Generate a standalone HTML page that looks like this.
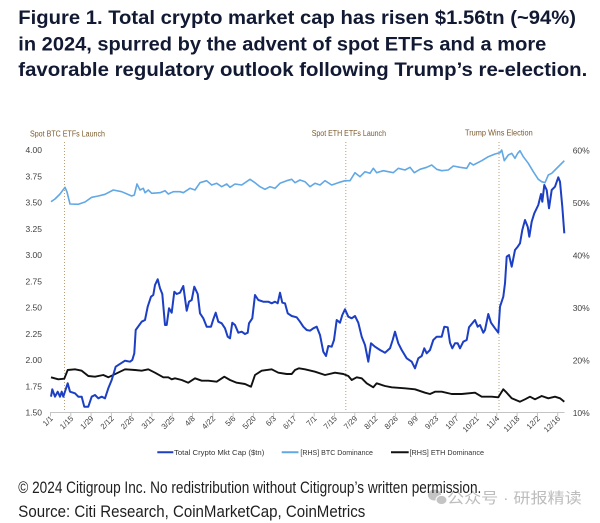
<!DOCTYPE html>
<html>
<head>
<meta charset="utf-8">
<style>
html,body{margin:0;padding:0;background:#fff;}
svg{display:block;}
</style>
</head>
<body>
<svg width="600" height="523" viewBox="0 0 600 523" xmlns="http://www.w3.org/2000/svg">
<rect width="600" height="523" fill="#fff"/>

<!-- Title -->
<g font-family="Liberation Sans, sans-serif" font-weight="bold" font-size="19.5" fill="#121a33">
<text x="18.3" y="24" textLength="557.7" lengthAdjust="spacingAndGlyphs">Figure 1. Total crypto market cap has risen $1.56tn (~94%)</text>
<text x="18.3" y="50.5" textLength="528" lengthAdjust="spacingAndGlyphs">in 2024, spurred by the advent of spot ETFs and a more</text>
<text x="18.3" y="76" textLength="569" lengthAdjust="spacingAndGlyphs">favorable regulatory outlook following Trump’s re-election.</text>
</g>

<!-- Annotations -->
<g font-family="Liberation Sans, sans-serif" font-size="8" fill="#7a5a2c">
<text x="30" y="136.5" textLength="75" lengthAdjust="spacingAndGlyphs">Spot BTC ETFs Launch</text>
<text x="311.7" y="136" textLength="74.3" lengthAdjust="spacingAndGlyphs">Spot ETH ETFs Launch</text>
<text x="465" y="135.5" textLength="67.7" lengthAdjust="spacingAndGlyphs">Trump Wins Election</text>
</g>
<g stroke="#b89f78" stroke-width="1" stroke-dasharray="1,2">
<line x1="64.5" y1="142" x2="64.5" y2="412"/>
<line x1="345.8" y1="142" x2="345.8" y2="412"/>
<line x1="499" y1="142" x2="499" y2="412"/>
</g>

<!-- Left axis labels -->
<g font-family="Liberation Sans, sans-serif" font-size="8.5" fill="#404040" text-anchor="end">
<text x="42" y="153">4.00</text>
<text x="42" y="179.25">3.75</text>
<text x="42" y="205.5">3.50</text>
<text x="42" y="231.75">3.25</text>
<text x="42" y="258">3.00</text>
<text x="42" y="284.25">2.75</text>
<text x="42" y="310.5">2.50</text>
<text x="42" y="336.75">2.25</text>
<text x="42" y="363">2.00</text>
<text x="42" y="389.25">1.75</text>
<text x="42" y="415.5">1.50</text>
</g>
<!-- Right axis labels -->
<g font-family="Liberation Sans, sans-serif" font-size="8.5" fill="#404040">
<text x="572.7" y="153.5">60%</text>
<text x="572.7" y="206">50%</text>
<text x="572.7" y="258.5">40%</text>
<text x="572.7" y="311">30%</text>
<text x="572.7" y="363.5">20%</text>
<text x="572.7" y="416">10%</text>
</g>

<!-- X axis -->
<line x1="50" y1="412.5" x2="564.5" y2="412.5" stroke="#c4c4c4" stroke-width="1"/>
<g stroke="#c4c4c4" stroke-width="1">
<line x1="50.5" y1="412.5" x2="50.5" y2="416.5"/>
<line x1="70.8" y1="412.5" x2="70.8" y2="416.5"/>
<line x1="91.1" y1="412.5" x2="91.1" y2="416.5"/>
<line x1="111.4" y1="412.5" x2="111.4" y2="416.5"/>
<line x1="131.6" y1="412.5" x2="131.6" y2="416.5"/>
<line x1="151.9" y1="412.5" x2="151.9" y2="416.5"/>
<line x1="172.2" y1="412.5" x2="172.2" y2="416.5"/>
<line x1="192.5" y1="412.5" x2="192.5" y2="416.5"/>
<line x1="212.8" y1="412.5" x2="212.8" y2="416.5"/>
<line x1="233.1" y1="412.5" x2="233.1" y2="416.5"/>
<line x1="253.4" y1="412.5" x2="253.4" y2="416.5"/>
<line x1="273.6" y1="412.5" x2="273.6" y2="416.5"/>
<line x1="293.9" y1="412.5" x2="293.9" y2="416.5"/>
<line x1="314.2" y1="412.5" x2="314.2" y2="416.5"/>
<line x1="334.5" y1="412.5" x2="334.5" y2="416.5"/>
<line x1="354.8" y1="412.5" x2="354.8" y2="416.5"/>
<line x1="375.1" y1="412.5" x2="375.1" y2="416.5"/>
<line x1="395.4" y1="412.5" x2="395.4" y2="416.5"/>
<line x1="415.6" y1="412.5" x2="415.6" y2="416.5"/>
<line x1="435.9" y1="412.5" x2="435.9" y2="416.5"/>
<line x1="456.2" y1="412.5" x2="456.2" y2="416.5"/>
<line x1="476.5" y1="412.5" x2="476.5" y2="416.5"/>
<line x1="496.8" y1="412.5" x2="496.8" y2="416.5"/>
<line x1="517.1" y1="412.5" x2="517.1" y2="416.5"/>
<line x1="537.4" y1="412.5" x2="537.4" y2="416.5"/>
<line x1="557.7" y1="412.5" x2="557.7" y2="416.5"/>
</g>
<g font-family="Liberation Sans, sans-serif" font-size="7.8" fill="#404040" text-anchor="end">
<text transform="translate(53.5,419) rotate(-45)">1/1</text>
<text transform="translate(73.8,419) rotate(-45)">1/15</text>
<text transform="translate(94.1,419) rotate(-45)">1/29</text>
<text transform="translate(114.4,419) rotate(-45)">2/12</text>
<text transform="translate(134.6,419) rotate(-45)">2/26</text>
<text transform="translate(154.9,419) rotate(-45)">3/11</text>
<text transform="translate(175.2,419) rotate(-45)">3/25</text>
<text transform="translate(195.5,419) rotate(-45)">4/8</text>
<text transform="translate(215.8,419) rotate(-45)">4/22</text>
<text transform="translate(236.1,419) rotate(-45)">5/6</text>
<text transform="translate(256.4,419) rotate(-45)">5/20</text>
<text transform="translate(276.6,419) rotate(-45)">6/3</text>
<text transform="translate(296.9,419) rotate(-45)">6/17</text>
<text transform="translate(317.2,419) rotate(-45)">7/1</text>
<text transform="translate(337.5,419) rotate(-45)">7/15</text>
<text transform="translate(357.8,419) rotate(-45)">7/29</text>
<text transform="translate(378.1,419) rotate(-45)">8/12</text>
<text transform="translate(398.4,419) rotate(-45)">8/26</text>
<text transform="translate(418.6,419) rotate(-45)">9/9</text>
<text transform="translate(438.9,419) rotate(-45)">9/23</text>
<text transform="translate(459.2,419) rotate(-45)">10/7</text>
<text transform="translate(479.5,419) rotate(-45)">10/21</text>
<text transform="translate(499.8,419) rotate(-45)">11/4</text>
<text transform="translate(520.1,419) rotate(-45)">11/18</text>
<text transform="translate(540.4,419) rotate(-45)">12/2</text>
<text transform="translate(560.7,419) rotate(-45)">12/16</text>
</g>

<!-- BTC dominance -->
<polyline fill="none" stroke="#62a8e5" stroke-width="1.6" stroke-linejoin="round" points="51,201.7 55,199 60,194 63,190 65,187.3 67,192 70,204 78.3,204.3 85,202 91.7,197.3 98.3,196 105,194.3 113.3,190 121.7,191.7 131.7,196 134.3,195 137,184 140,190 143.3,188.3 145,192.7 148.3,190 151.7,193.3 160,192.7 165,190.7 168.3,194 173.3,191.7 180,191.7 183.3,192.7 190,188.3 195,190 200,182.7 206.7,180.7 211.7,185 216.7,183.3 221.7,186.7 226.7,184 230,187.3 235,184 241.7,185 250,179.3 255,182.7 260,186.7 265,189.3 270,186.7 275,188.3 280,183.3 286.7,180.7 291.7,179.3 295,182.7 300,180 305,181.7 310,186.7 315,183.3 320,185 325,180.7 331.7,185 338.3,182.7 345,180.7 350,180.7 355,172.7 360,176.7 365,171.7 370,173.3 373.3,168.3 376.7,172.7 383.3,170.7 388.3,171.7 393.3,172.7 398.3,168.3 405,170 410,167.3 414.3,172.7 420,169.3 426.7,167.3 431.7,165 436.7,169.3 441.7,170.7 448.3,170 453.3,166 460,167.3 466.7,168.3 470,162.7 473.3,165 481.7,160.7 488.3,156.7 495,154 500,152.7 501.7,150 504.3,160.7 508.3,155 511.7,153.3 515,158.3 517.7,153.3 520,150.7 523.3,156.7 528.3,163.3 533.3,171.7 538.3,179.3 541.7,181.7 545,182.7 548.3,175 551.7,173.3 555,170 560,165 564.3,160.7"/>

<!-- ETH dominance -->
<polyline fill="none" stroke="#111" stroke-width="1.9" stroke-linejoin="round" points="51,377.3 58.3,379.3 64.3,378.7 67.7,370 75,369.3 81.7,370.7 88.3,376 95,376.7 103.3,375 108.3,377.3 116.7,373.3 125,369.3 135,370 141.7,370.7 148.3,369.3 155,372.7 163.3,377.3 168.3,377.3 171.7,379.3 175,378.3 181.7,380 188.3,382.7 195,378.3 201.7,380.7 208.3,380.7 216.7,381.7 224.3,376.7 230,380 236.7,382.7 245,384 251,386.7 255,375 261.7,370.7 271.7,369.3 278.3,372.7 286.7,374 291.7,374 295,370 299,368.3 305,369.3 315,371.7 325,375 335,372.7 343.3,374 348.3,376 351.7,380 356.7,377.3 361.7,378.3 366.7,383.3 373.3,387.3 376.7,383.3 385,386 391.7,387.3 405,388.3 415,389.3 425,392.7 430,394 435,391.7 441.7,391.7 451.7,394 461.7,394 475,392.7 481.7,396.7 491.7,396.7 498.3,397.3 503.3,389.3 506.7,392.7 511.7,398.3 520,401.7 525,399.3 530,396.7 535,399.3 541.7,396 548.3,398.3 555,396.7 560,398.3 564.3,401.7"/>

<!-- Total crypto market cap -->
<polyline fill="none" stroke="#1c3fc4" stroke-width="2" stroke-linejoin="round" points="51,396.7 52.3,389.3 55,396.7 57.7,391.7 60,396.7 61.7,391.7 63.3,396.7 67.7,383.3 70,391.7 75,393.3 78.3,396.7 81.7,396.7 84.3,406.7 88.3,406.7 91.7,396.7 95,395 98.3,398.3 101.7,396.7 105,398.3 108.3,388.3 111.7,380 115.7,366.7 125,360.7 130,361.7 132.3,360 134.3,353.3 135.7,330 141.7,321.7 145,320 147.7,306.7 151,296.7 153.3,295 155,285 157.7,279.3 160,288.3 162.3,294 165,325 166.7,325 169,308.3 171.7,312.7 174.3,291.7 176.7,294 180,292.7 183.3,286 186.7,310.7 189,301.7 191.7,300 194.3,286.7 197.7,294 200,313.3 203.3,318.3 206.7,326.7 211,326.7 213.3,319.3 215.7,312.7 218.3,321.7 221.7,323.3 225,328.3 227.7,336.7 230,338.3 232.3,322.7 235,325 238.3,332.7 241.7,331.7 245,334 247.7,332.7 249,323.3 252.3,318.3 255,295 258.3,300 263.3,301.7 268.3,301.7 271.7,303.3 275,301.7 277.7,303.3 280,292.7 282.3,302.7 285,303.3 287.7,313.3 291.7,316 296.7,317.3 300,321.7 303.3,326.7 306.7,330 310,330.7 313.3,328.3 316.7,326.7 320,335 323.3,351.7 326,356 328.3,346 331.7,346.7 334,340 336.7,320 340,322.7 342.3,315 345,309.3 348.3,316.7 351.7,318.3 355,316 358.3,322.7 361.7,336.7 365,345 368.3,361.7 371,343.3 375,346.7 380,350 385,352.7 390,348.3 392.7,340 395,331.7 398.3,343.3 401.7,350 406.7,358.3 411.7,361.7 415,368.3 418.3,358.3 421.7,356 424.3,348.3 426.7,353.3 430,350 433.3,340 436.7,336.7 441.7,336.7 444.3,326.7 447.7,327.3 450,342.7 452.3,348.3 455,343.3 457.7,343.3 460,348.3 463.3,341.7 466.7,340 469,327.3 472.3,323.3 475,320 477.7,326.7 480,325 483.3,332.7 485,330 488.3,314 491,322.7 495,328.3 498.3,332.7 500,306.7 503.3,296.7 505,283.3 506.7,256.7 509,255 511.7,266.7 515,250 517.7,246.7 520,243.3 522.3,230 525,220 527.7,226.7 529.3,236.7 531.7,221.7 534.3,213.3 538.3,205 541,194 542.3,201.7 544.3,185 546.7,190 549,208.3 551.7,190 555,186.7 558.3,177.3 560,181.7 562.3,206.7 564.3,233.3"/>

<!-- Legend -->
<g stroke-width="2">
<line x1="157.3" y1="452.3" x2="173.3" y2="452.3" stroke="#1c3fc4"/>
<line x1="281.7" y1="452.3" x2="298.5" y2="452.3" stroke="#62a8e5"/>
<line x1="391" y1="452.3" x2="408.7" y2="452.3" stroke="#111"/>
</g>
<g font-family="Liberation Sans, sans-serif" font-size="7.5" fill="#333">
<text x="174" y="455" textLength="90.3" lengthAdjust="spacingAndGlyphs">Total Crypto Mkt Cap ($tn)</text>
<text x="300.4" y="455" textLength="72.6" lengthAdjust="spacingAndGlyphs">[RHS] BTC Dominance</text>
<text x="409.5" y="455" textLength="74.5" lengthAdjust="spacingAndGlyphs">[RHS] ETH Dominance</text>
</g>

<!-- Watermark -->
<g fill="#c4c4c4">
<ellipse cx="434.5" cy="495" rx="6.5" ry="5.5"/>
<ellipse cx="441.5" cy="500" rx="5.5" ry="4.6" stroke="#fff" stroke-width="1"/>
</g>
<text x="447" y="503" font-family="Liberation Sans, 'Noto Sans CJK SC', sans-serif" font-size="15" fill="#bdbdbd" textLength="134.7" lengthAdjust="spacingAndGlyphs">公众号 · 研报精读</text>

<!-- Footer -->
<g font-family="Liberation Sans, sans-serif" font-size="17" fill="#1e1e1e">
<text x="18.3" y="493" textLength="463" lengthAdjust="spacingAndGlyphs">© 2024 Citigroup Inc. No redistribution without Citigroup’s written permission.</text>
<text x="18.3" y="517" textLength="347" lengthAdjust="spacingAndGlyphs">Source: Citi Research, CoinMarketCap, CoinMetrics</text>
</g>
</svg>
</body>
</html>
